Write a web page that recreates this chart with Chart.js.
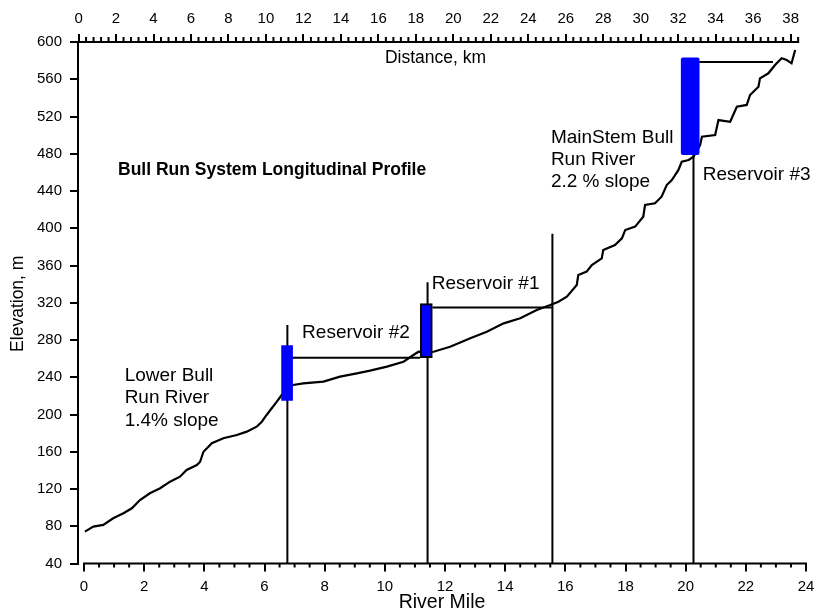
<!DOCTYPE html>
<html>
<head>
<meta charset="utf-8">
<script src="https://cdn.jsdelivr.net/npm/chart.js@4"></script>
<style>
  html, body { margin: 0; padding: 0; background: #fff; }
  #wrap { width: 817px; height: 612px; }
</style>
</head>
<body>
<div id="wrap"><canvas id="c" width="817" height="612"></canvas></div>
<script>
// ---- data ----
const profileMiles = [0.03,0.31,0.64,0.97,1.31,1.59,1.86,2.19,2.53,2.86,3.19,3.41,3.75,3.86,3.97,4.25,4.63,5.08,5.41,5.74,5.91,6.07,6.24,6.41,6.57,6.75,6.95,7.29,7.96,8.51,9.07,9.51,10.07,10.62,10.95,11.12,11.4,11.62,12.17,12.84,13.39,13.95,14.5,15.05,15.5,15.77,16.05,16.38,16.43,16.71,16.88,17.21,17.26,17.65,17.88,17.99,18.32,18.59,18.65,18.98,19.2,19.37,19.54,19.76,19.87,20.1,20.26,20.4,20.48,20.54,20.98,21.09,21.48,21.7,22.03,22.14,22.42,22.47,22.75,22.97,23.19,23.36,23.52,23.64];
const profileElev  = [74.2,79.6,81.4,88.6,93.9,99.3,108.2,115.4,120.8,127.9,133.2,140.4,145.8,149.3,160,169.1,174.5,178,181.6,186.9,192.3,199.5,206.7,213.8,220.9,227,231.7,233.5,235.3,240.6,244.2,247.1,251.4,256.7,263.9,267.4,267,267.4,272.8,281.8,288.9,297.9,303.3,312.2,317.6,321.1,326.5,339.1,349.8,353.4,360.5,367.7,376.6,382,389.2,398.1,401.7,412.4,425,426.8,433.9,446.4,451.8,462.6,471.5,473.3,476.9,485,489.4,498.3,500.1,516.2,514.4,530.5,532.4,543.1,552,561,566.4,575.3,582.5,580.7,577.1,591.4];

const damMiles = [6.76, 11.42, 15.57, 20.26];
const damTops  = [296, 342, 394, 479];
const axisFloor = 40;

const reservoirNames  = ['Reservoir #2', 'Reservoir #1', 'Reservoir #3'];
const reservoirMiles  = [6.75, 11.38, 20.15];
const reservoirBottom = [215, 261, 479];
const reservoirTop    = [274, 319, 583];

const poolStart = [6.94, 11.58, 20.45];
const poolEnd   = [11.17, 15.55, 22.9];
const poolElev  = [261, 315, 578.5];

const mileTicks = [0,2,4,6,8,10,12,14,16,18,20,22,24];
const kmTicks   = [0,2,4,6,8,10,12,14,16,18,20,22,24,26,28,30,32,34,36,38];
const elevTicks = [40,80,120,160,200,240,280,320,360,400,440,480,520,560,600];

const FONT = "'Liberation Sans', Arial, sans-serif";

// ---- datasets ----
const datasets = [];
datasets.push({
  type: 'line', label: 'profile', order: 3,
  data: profileMiles.map((m, i) => ({ x: m, y: profileElev[i] })),
  borderColor: '#000', borderWidth: 2.2, pointRadius: 0, tension: 0, fill: false,
  xAxisID: 'x', yAxisID: 'y'
});
damMiles.forEach((m, i) => {
  datasets.push({
    type: 'line', label: 'dam' + i, order: 2,
    data: [{ x: m, y: axisFloor }, { x: m, y: damTops[i] }],
    borderColor: '#000', borderWidth: 2, pointRadius: 0, fill: false,
    xAxisID: 'x', yAxisID: 'y'
  });
});
poolElev.forEach((e, i) => {
  datasets.push({
    type: 'line', label: 'pool' + i, order: 2,
    data: [{ x: poolStart[i], y: e }, { x: poolEnd[i], y: e }],
    borderColor: '#000', borderWidth: 2, pointRadius: 0, fill: false,
    xAxisID: 'x', yAxisID: 'y'
  });
});
const barThick = [11, 12, 18];
const barBorder = [0, 2, 0];
reservoirMiles.forEach((m, i) => {
  datasets.push({
    type: 'bar', label: reservoirNames[i], order: 0,
    data: [{ x: m, y: [reservoirBottom[i], reservoirTop[i]] }],
    backgroundColor: '#0000ff', borderColor: '#000', borderWidth: barBorder[i],
    borderSkipped: false, barThickness: barThick[i], grouped: false,
    borderRadius: i === 2 ? 2 : 0,
    xAxisID: 'x', yAxisID: 'y'
  });
});

// ---- decorations plugin ----
const deco = {
  id: 'deco',
  afterDraw(chart) {
    const ctx = chart.ctx;
    const x = chart.scales.x, y = chart.scales.y, x2 = chart.scales.x2;
    const ca = chart.chartArea;
    ctx.save();
    ctx.strokeStyle = '#000';
    ctx.lineWidth = 2;
    // bottom axis line
    ctx.beginPath();
    ctx.moveTo(x.getPixelForValue(mileTicks[0]) - 1, ca.bottom);
    ctx.lineTo(x.getPixelForValue(mileTicks[mileTicks.length - 1]) + 1, ca.bottom);
    ctx.stroke();
    // bottom minor ticks (every 0.5 mile)
    for (let v = 0.5; v < 24; v += 0.5) {
      if (v % 2 === 0) continue;
      const px = x.getPixelForValue(v);
      ctx.beginPath(); ctx.moveTo(px, ca.bottom); ctx.lineTo(px, ca.bottom + 4); ctx.stroke();
    }
    // top axis line
    ctx.beginPath();
    ctx.moveTo(ca.left - 1, ca.top);
    ctx.lineTo(x2.getPixelForValue(38.4) + 1, ca.top);
    ctx.stroke();
    // top minor ticks (every 0.4 km)
    for (let k = 1; k <= 96; k++) {
      if (k % 5 === 0) continue;
      const px = x2.getPixelForValue(k * 0.4);
      ctx.beginPath(); ctx.moveTo(px, ca.top); ctx.lineTo(px, ca.top - 5); ctx.stroke();
    }
    // texts
    ctx.fillStyle = '#000';
    ctx.textBaseline = 'middle';
    ctx.textAlign = 'left';
    ctx.font = 'bold 17.5px ' + FONT;
    ctx.fillText('Bull Run System Longitudinal Profile', x.getPixelForValue(1.13), y.getPixelForValue(462.6));
    ctx.font = '19px ' + FONT;
    const lb = [x.getPixelForValue(1.35), y.getPixelForValue(241.6)];
    ['Lower Bull', 'Run River', '1.4% slope'].forEach((t, i) => ctx.fillText(t, lb[0], lb[1] + i * 22.5));
    ctx.fillText('Reservoir #2', x.getPixelForValue(7.25), y.getPixelForValue(287.5));
    ctx.fillText('Reservoir #1', x.getPixelForValue(11.56), y.getPixelForValue(340.9));
    const ms = [x.getPixelForValue(15.52), y.getPixelForValue(497.2)];
    ['MainStem Bull', 'Run River', '2.2 % slope'].forEach((t, i) => ctx.fillText(t, ms[0], ms[1] + i * 22));
    ctx.fillText('Reservoir #3', x.getPixelForValue(20.57), y.getPixelForValue(457.2));
    ctx.font = '17.5px ' + FONT;
    ctx.fillText('Distance, km', x2.getPixelForValue(16.35), y.getPixelForValue(582.8));
    // axis titles
    ctx.textAlign = 'center';
    ctx.font = '19.5px ' + FONT;
    ctx.fillText('River Mile', x.getPixelForValue(11.9), ca.bottom + 39.5);
    ctx.save();
    ctx.translate(18, (ca.top + ca.bottom) / 2 + 1);
    ctx.rotate(-Math.PI / 2);
    ctx.font = '17.5px ' + FONT;
    ctx.fillText('Elevation, m', 0, 0);
    ctx.restore();
    ctx.restore();
  }
};

const tickFont = { family: FONT, size: 15 };
const gridOpts = { display: true, drawOnChartArea: false, drawTicks: true, tickLength: 8, lineWidth: 2, color: '#000', tickColor: '#000' };
const noPad = s => { s.paddingLeft = 0; s.paddingRight = 0; s.paddingTop = 0; s.paddingBottom = 0; };

new Chart(document.getElementById('c'), {
  type: 'line',
  data: { datasets },
  options: {
    responsive: false,
    animation: false,
    layout: { padding: { left: 0, right: 11, top: 0, bottom: 0 } },
    plugins: { legend: { display: false }, tooltip: { enabled: false } },
    scales: {
      x: {
        type: 'linear', position: 'bottom', min: -0.2, max: 24, offset: false,
        grid: Object.assign({}, gridOpts, { offset: false }),
        border: { display: false },
        afterBuildTicks: s => { s.ticks = mileTicks.map(v => ({ value: v })); },
        afterFit: s => { s.height = 48.5; noPad(s); },
        ticks: { font: tickFont, color: '#000', padding: 6, maxRotation: 0, autoSkip: false, callback: v => String(v) }
      },
      x2: {
        type: 'linear', position: 'top', min: -0.03, max: 38.82, offset: false,
        grid: Object.assign({}, gridOpts, { offset: false }),
        border: { display: false },
        afterBuildTicks: s => { s.ticks = kmTicks.map(v => ({ value: v })); },
        afterFit: s => { s.height = 42; noPad(s); },
        ticks: { font: tickFont, color: '#000', padding: 6, maxRotation: 0, autoSkip: false, callback: v => String(v) }
      },
      y: {
        type: 'linear', position: 'left', min: 40, max: 600,
        grid: gridOpts,
        border: { display: true, color: '#000', width: 2 },
        afterBuildTicks: s => { s.ticks = elevTicks.map(v => ({ value: v })); },
        afterFit: s => { s.width = 78; noPad(s); },
        ticks: { font: tickFont, color: '#000', padding: 8, autoSkip: false, callback: v => String(v) }
      }
    }
  },
  plugins: [deco]
});
</script>
</body>
</html>
